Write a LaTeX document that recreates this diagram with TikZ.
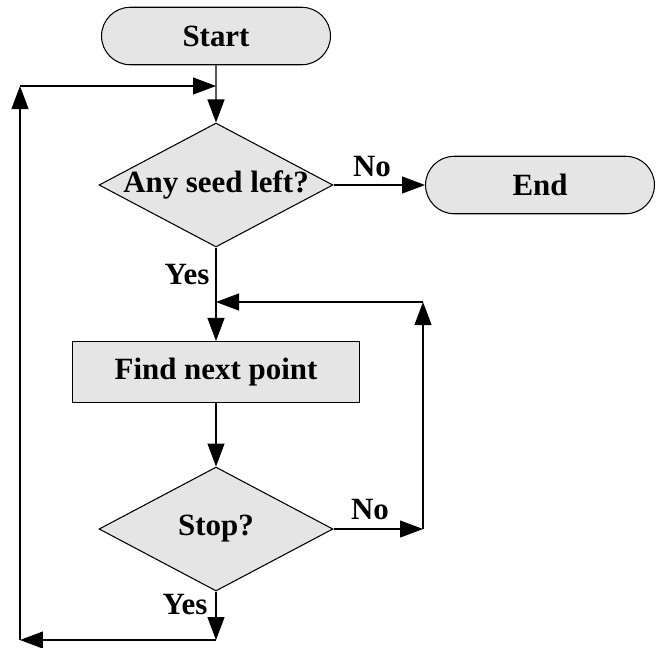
\documentclass[tikz,border=0pt]{standalone}
\usepackage{fontspec}
\setmainfont{Liberation Serif}
\usetikzlibrary{arrows.meta,shapes.geometric,shapes.misc}

\begin{document}
\begin{tikzpicture}[x=0.02cm, y=-0.02cm, >={Triangle[length=0.46cm,width=0.34cm]},
  line width=0.6pt, font=\fontsize{17.6}{20}\selectfont\bfseries,
  terminal/.style={rounded rectangle, draw, fill=gray!20, minimum width=4.58cm, minimum height=1.15cm, inner sep=0pt},
  decision/.style={diamond, draw, fill=gray!20, minimum width=4.68cm, minimum height=2.48cm, inner sep=0pt},
  process/.style={rectangle, draw, fill=gray!20, minimum width=5.74cm, minimum height=1.22cm, inner sep=0pt}]
  \useasboundingbox (0,0) rectangle (658,647);
  %% nodes
  \node[terminal] (start) at (216,36)  {Start};
  \node[decision] (seed)  at (216,185) {\makebox[0pt]{Any seed left?}};
  \node[terminal] (end)   at (540,185) {End};
  \node[process]  (find)  at (216,372) {Find next point};
  \node[decision] (stop)  at (216,529) {\makebox[0pt]{Stop?}};
  %% corner points of the loops
  \coordinate (join1) at (216,86);
  \coordinate (ctl)   at (20,86);
  \coordinate (cbl)   at (20,640);
  \coordinate (cbm)   at (216,640);
  \coordinate (join2) at (216,302);
  \coordinate (ctr)   at (423,302);
  \coordinate (cbr)   at (423,529);
  %% main flow
  \draw[->] (start) -- (seed);
  \draw[->] (seed) -- (end);
  \draw[->] (seed) -- (find);
  \draw[->] (find) -- (stop);
  %% inner loop (No)
  \draw[->] (stop.east) -- (cbr);
  \draw[->] (cbr) -- (ctr);
  \draw[->] (ctr) -- (join2);
  %% outer loop (Yes)
  \draw[->] (stop.south) -- (cbm);
  \draw[->] (cbm) -- (cbl);
  \draw[->] (cbl) -- (ctl);
  \draw[->] (ctl) -- (join1);
  %% labels
  \node (no1)  at (372,167) {No};
  \node (yes1) at (187,275) {Yes};
  \node (no2)  at (370,510) {No};
  \node (yes2) at (185,605) {Yes};
\end{tikzpicture}
\end{document}
